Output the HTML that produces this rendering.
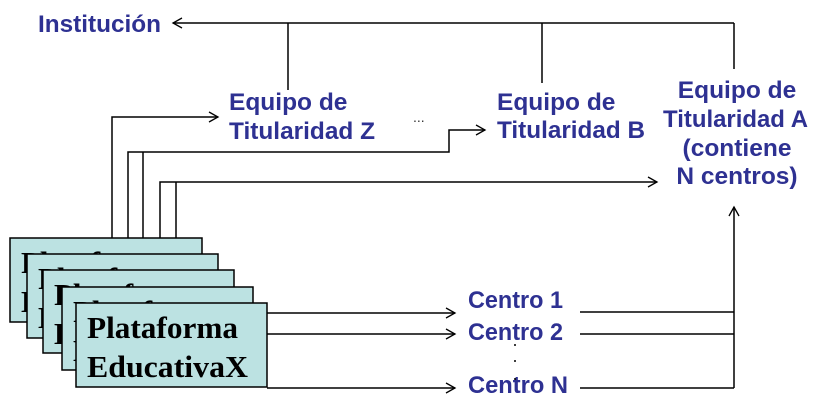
<!DOCTYPE html>
<html><head><meta charset="utf-8"><style>
html,body{margin:0;padding:0;background:#fff;}
svg{display:block;}
.t{font-family:"Liberation Sans",sans-serif;font-weight:bold;fill:#2e3192;font-size:24.5px;}
.c{font-family:"Liberation Sans",sans-serif;font-weight:bold;fill:#2e3192;font-size:24px;}
.p{font-family:"Liberation Serif",serif;font-weight:bold;fill:#000;font-size:31px;}
</style></head><body>
<svg width="836" height="415" viewBox="0 0 836 415" xmlns="http://www.w3.org/2000/svg">
<defs>
<marker id="a" markerWidth="12" markerHeight="12" refX="10" refY="6" orient="auto" markerUnits="userSpaceOnUse">
<path d="M1,1 L10,6 L1,11" fill="none" stroke="#000" stroke-width="1.3"/>
</marker>
</defs>
<g stroke="#000" stroke-width="1.5" fill="none">
<line x1="734" y1="23" x2="173" y2="23" marker-end="url(#a)"/>
<line x1="288" y1="23" x2="288" y2="90"/>
<line x1="542" y1="23" x2="542" y2="83"/>
<line x1="734" y1="23" x2="734" y2="69"/>
<polyline points="112,238 112,117 218,117" marker-end="url(#a)"/>
<polyline points="128,255 128,152 449,152 449,130 485,130" marker-end="url(#a)"/>
<line x1="143" y1="271" x2="143" y2="152"/>
<polyline points="160,288 160,182 657,182" marker-end="url(#a)"/>
<line x1="176" y1="304" x2="176" y2="182"/>
<line x1="267" y1="313" x2="455" y2="313" marker-end="url(#a)"/>
<line x1="267" y1="334" x2="455" y2="334" marker-end="url(#a)"/>
<line x1="267" y1="388" x2="455" y2="388" marker-end="url(#a)"/>
<line x1="580" y1="312" x2="734" y2="312"/>
<line x1="580" y1="334" x2="734" y2="334"/>
<line x1="580" y1="388" x2="734" y2="388"/>
<line x1="734" y1="388" x2="734" y2="207" marker-end="url(#a)"/>
</g>
<g stroke="#000" stroke-width="1.5">
<rect x="10" y="238" width="192" height="84" fill="#bce2e2"/>
<text class="p" x="21" y="273" stroke="none">Plataforma</text>
<text class="p" x="21" y="312" stroke="none">EducativaX</text>
<rect x="27" y="254" width="191" height="84" fill="#bce2e2"/>
<text class="p" x="38" y="289" stroke="none">Plataforma</text>
<text class="p" x="38" y="328" stroke="none">EducativaX</text>
<rect x="43" y="270" width="191" height="83" fill="#bce2e2"/>
<text class="p" x="54" y="305" stroke="none">Plataforma</text>
<text class="p" x="54" y="344" stroke="none">EducativaX</text>
<rect x="62" y="287" width="191" height="83" fill="#bce2e2"/>
<text class="p" x="73" y="322" stroke="none">Plataforma</text>
<text class="p" x="73" y="361" stroke="none">EducativaX</text>
<rect x="76" y="303" width="191" height="84" fill="#bce2e2"/>
</g>
<text class="p" x="87" y="338" textLength="151" lengthAdjust="spacingAndGlyphs">Plataforma</text>
<text class="p" x="87" y="377" textLength="161" lengthAdjust="spacingAndGlyphs">EducativaX</text>
<text class="t" x="38" y="32" textLength="123" lengthAdjust="spacingAndGlyphs">Institución</text>
<text class="t" x="229" y="110">Equipo de</text>
<text class="t" x="229" y="139" textLength="146" lengthAdjust="spacingAndGlyphs">Titularidad Z</text>
<text class="t" x="497" y="110">Equipo de</text>
<text class="t" x="497" y="138" textLength="148" lengthAdjust="spacingAndGlyphs">Titularidad B</text>
<text class="t" x="737" y="98" text-anchor="middle">Equipo de</text>
<text class="t" x="663" y="127" textLength="145" lengthAdjust="spacingAndGlyphs">Titularidad A</text>
<text class="t" x="737" y="156" text-anchor="middle">(contiene</text>
<text class="t" x="737" y="184" text-anchor="middle">N centros)</text>
<text x="413" y="122" font-family="Liberation Sans,sans-serif" font-size="14" fill="#333">...</text>
<text class="c" x="468" y="308" textLength="95" lengthAdjust="spacingAndGlyphs">Centro 1</text>
<text class="c" x="468" y="340" textLength="95" lengthAdjust="spacingAndGlyphs">Centro 2</text>
<text class="c" x="468" y="393" textLength="100" lengthAdjust="spacingAndGlyphs">Centro N</text>
<g fill="#000">
<circle cx="515" cy="345" r="1"/>
<circle cx="515" cy="361" r="1"/>
<circle cx="515" cy="379" r="1"/>
</g>
</svg>
</body></html>
